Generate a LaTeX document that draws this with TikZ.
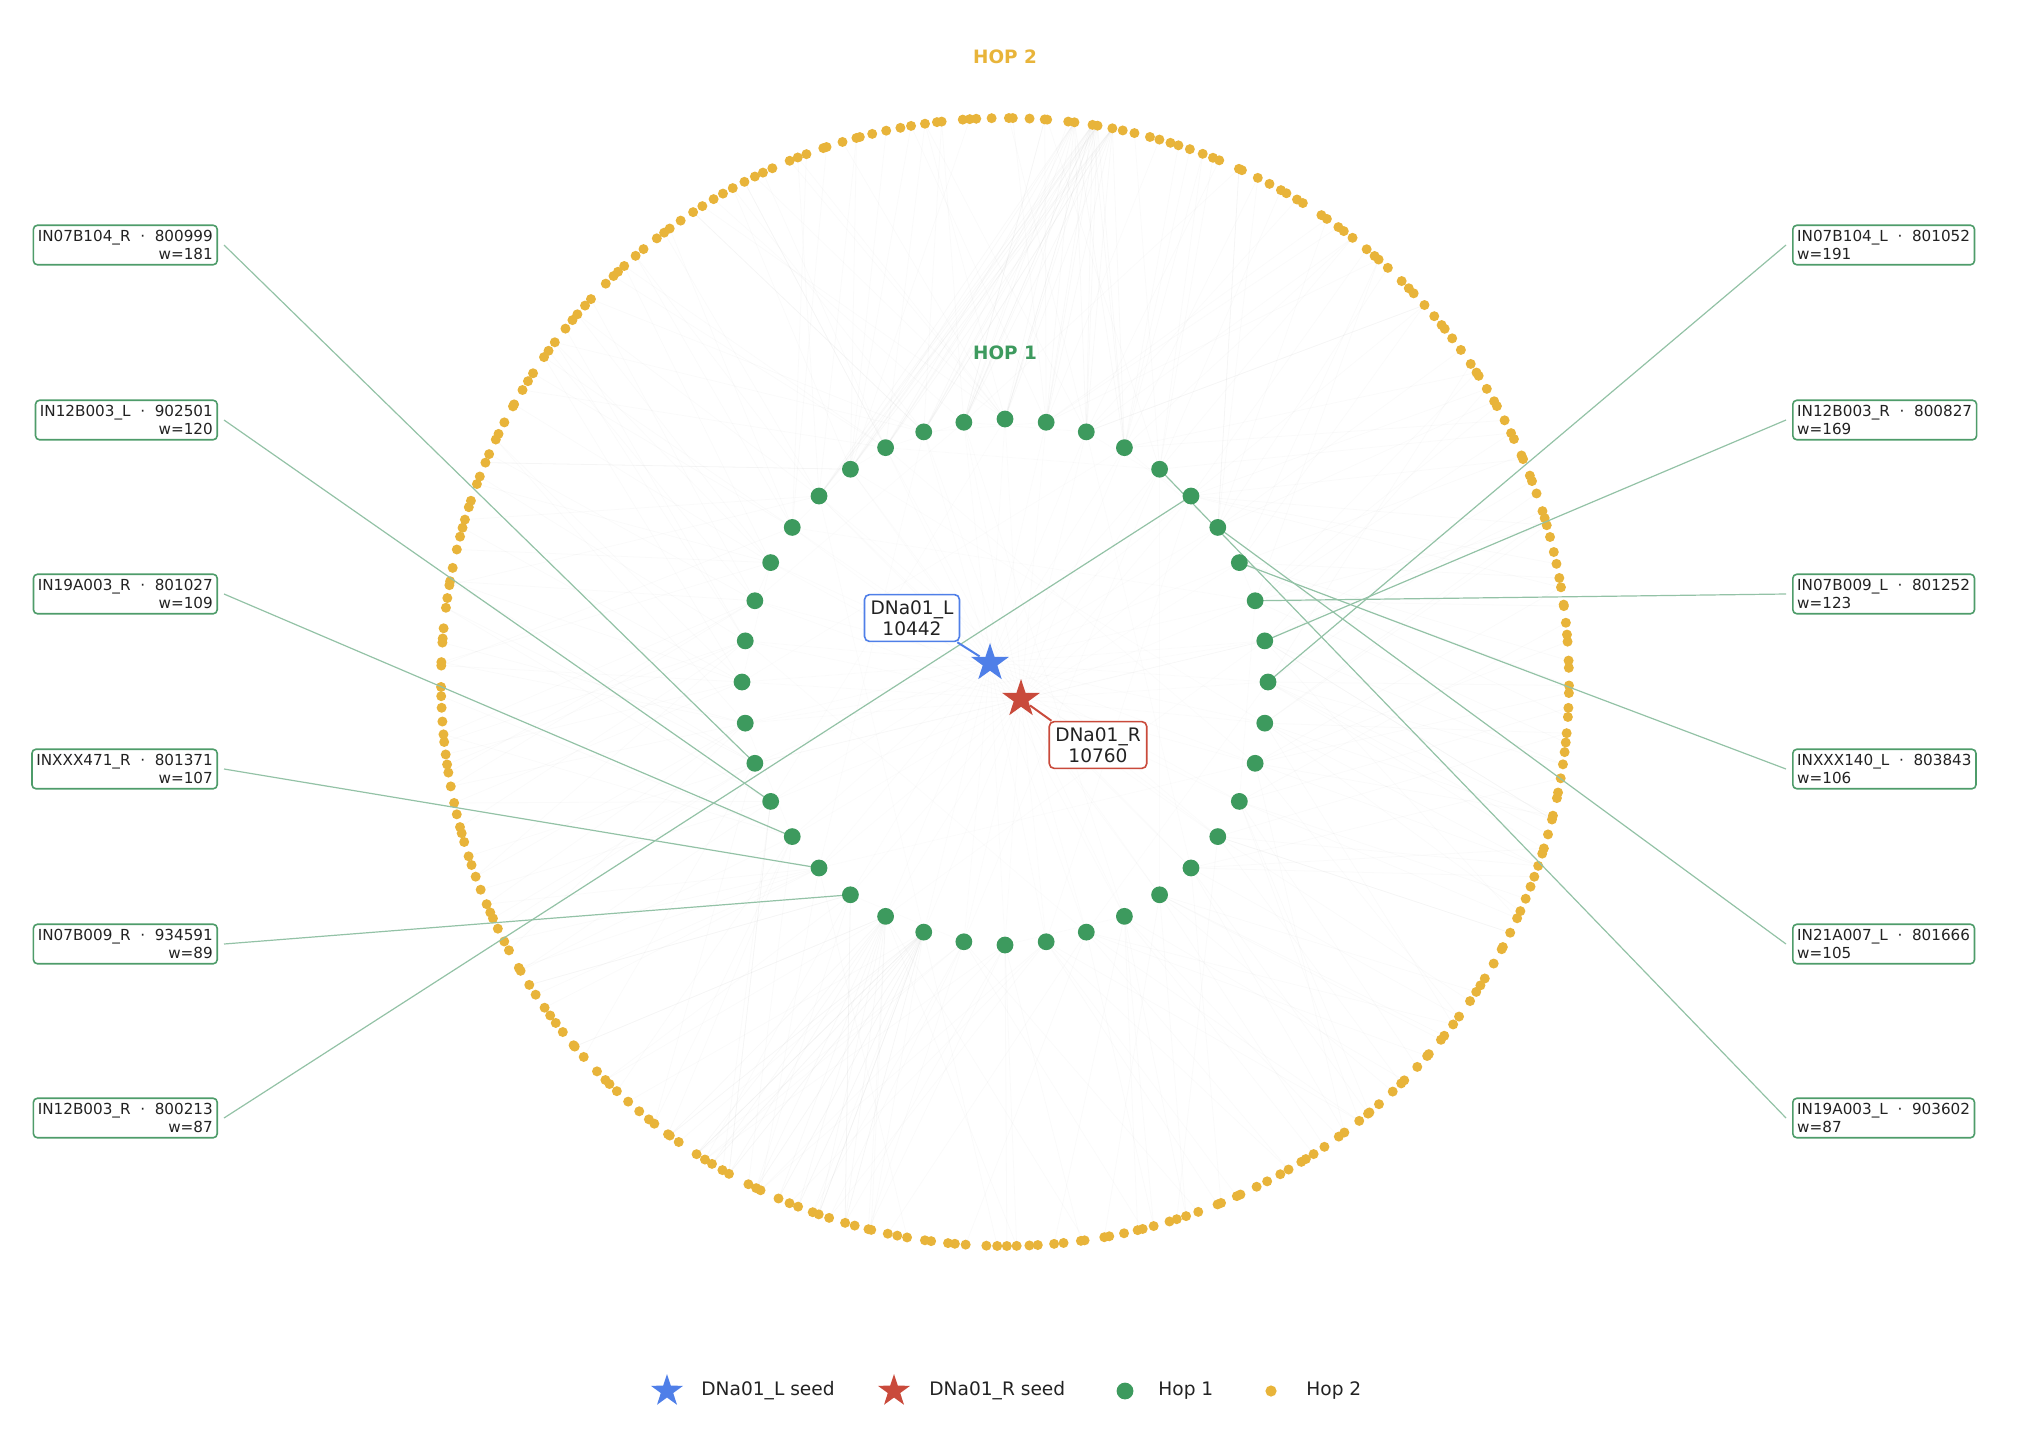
\documentclass[tikz,border=0pt]{standalone}
\usepackage{fontspec}
\setmainfont{DejaVu Sans}
\usetikzlibrary{shapes.geometric}
\definecolor{hopone}{HTML}{3D9A5E}
\definecolor{hoptwo}{HTML}{E8B43A}
\definecolor{seedL}{HTML}{4F7FE8}
\definecolor{seedR}{HTML}{C94A3B}
\definecolor{boxgreen}{HTML}{4E9C6A}
\definecolor{linkgreen}{HTML}{93C2A6}
\definecolor{txt}{HTML}{222222}
\pgfdeclarelayer{faintl}
\pgfdeclarelayer{dotsl}
\pgfdeclarelayer{linkl}
\pgfsetlayers{faintl,dotsl,linkl,main}
\begin{document}
\begin{tikzpicture}[x=0.5pt,y=-0.5pt,
  lbl/.style={draw=boxgreen, line width=0.8pt, rounded corners=2pt, fill=white, text=txt,
    font=\fontsize{7.6}{8.8}\selectfont, inner xsep=2.2pt, inner ysep=2.6pt},
  lblL/.style={lbl, align=right, anchor=east},
  lblR/.style={lbl, align=left, anchor=west},
  link/.style={draw=linkgreen, line width=0.6pt},
  faint/.style={draw=gray, opacity=0.04, line width=0.4pt},
  honedot/.style={circle, fill=hopone, inner sep=0pt, minimum size=8.4pt},
  htwodot/.style={circle, fill=hoptwo, inner sep=0pt, minimum size=5pt},
  seedstar/.style={star, star points=5, star point ratio=2.6, inner sep=0pt, minimum size=20pt},
  seedbox/.style={draw, line width=0.8pt, rounded corners=2.5pt, fill=white, text=txt, align=center,
    font=\fontsize{9.3}{10.4}\selectfont, inner xsep=3pt, inner ysep=3pt},
  hoplbl/.style={font=\bfseries\fontsize{9.2}{11}\selectfont},
  legtext/.style={anchor=west, inner xsep=0pt, text=txt, font=\fontsize{9.3}{11}\selectfont}
]
\useasboundingbox (0,0) rectangle (2044,1440);

% hop 1 positions
\foreach \k in {0,...,39} {
  \coordinate (c1-\k) at ({1005+263*cos(9*\k)},{682-263*sin(9*\k)});
}
% hop 2 positions
\pgfmathsetseed{12}
\foreach \i in {0,...,299} {
  \pgfmathsetmacro\a{\i*1.2+0.55*rand}
  \coordinate (c2-\i) at ({1005+564*cos(\a)},{682-564*sin(\a)});
}
\coordinate (pL) at (990,663);
\coordinate (pR) at (1021,699);

% faint background edges
\begin{pgfonlayer}{faintl}
\foreach \k in {0,...,39} {
  \foreach \j in {1,...,7} {
    \pgfmathtruncatemacro\t{mod(round(7.5*\k+30*rand)+600,300)}
    \draw[faint] (c1-\k) -- (c2-\t);
  }
  \draw[faint, opacity=0.03] (pL) -- (c1-\k);
  \draw[faint, opacity=0.03] (pR) -- (c1-\k);
}
% bundles
\foreach \k in {7,8,9,10,11,12,13,14,15} {
  \foreach \t in {66,67,68,69} {
    \draw[faint, opacity=0.05] (c1-\k) -- (c2-\t);
  }
}
\foreach \t in {195,197,199,201,203,205,207,209,211} {
  \draw[faint, opacity=0.07] (c1-28) -- (c2-\t);
  \draw[faint, opacity=0.05] (c1-27) -- (c2-\t);
}
\foreach \k in {0,...,39} {
  \pgfmathtruncatemacro\t{mod(\k+8+round(12*rand)+40,40)}
  \draw[faint, opacity=0.03] (c1-\k) -- (c1-\t);
}
\end{pgfonlayer}

% hop 2 dots
\begin{pgfonlayer}{dotsl}
\foreach \i in {0,...,299} {
  \node[htwodot] (h2-\i) at (c2-\i) {};
}
\end{pgfonlayer}

% hop 1 dots
\foreach \k in {0,...,39} {
  \node[honedot] (h1-\k) at (c1-\k) {};
}

% labels
\node[hoplbl, text=hoptwo] (hoptwolbl) at (1005,57) {HOP 2};
\node[hoplbl, text=hopone] (hoponelbl) at (1005,353) {HOP 1};

% left boxes
\node[lblL] (L1) at (218,245)  {IN07B104\_R~~·~~800999\\w=181};
\node[lblL] (L2) at (218,420)  {IN12B003\_L~~·~~902501\\w=120};
\node[lblL] (L3) at (218,594)  {IN19A003\_R~~·~~801027\\w=109};
\node[lblL] (L4) at (218,769)  {INXXX471\_R~~·~~801371\\w=107};
\node[lblL] (L5) at (218,944)  {IN07B009\_R~~·~~934591\\w=89};
\node[lblL] (L6) at (218,1118) {IN12B003\_R~~·~~800213\\w=87};
% right boxes
\node[lblR] (R1) at (1792,245)  {IN07B104\_L~~·~~801052\\w=191};
\node[lblR] (R2) at (1792,420)  {IN12B003\_R~~·~~800827\\w=169};
\node[lblR] (R3) at (1792,594)  {IN07B009\_L~~·~~801252\\w=123};
\node[lblR] (R4) at (1792,769)  {INXXX140\_L~~·~~803843\\w=106};
\node[lblR] (R5) at (1792,944)  {IN21A007\_L~~·~~801666\\w=105};
\node[lblR] (R6) at (1792,1118) {IN19A003\_L~~·~~903602\\w=87};

\begin{pgfonlayer}{linkl}
\foreach \b/\k in {L1/22,L2/23,L3/24,L4/25,L5/26,L6/5} {
  \coordinate (s\b) at ([xshift=3pt]\b.east);
  \draw[link] (s\b) -- (c1-\k);
}
\foreach \b/\k in {R1/0,R2/1,R3/2,R4/3,R5/4,R6/6} {
  \coordinate (s\b) at ([xshift=-3pt]\b.west);
  \draw[link] (s\b) -- (c1-\k);
}
\end{pgfonlayer}

% seeds
\node[seedbox, draw=seedL] (bL) at (912,618) {DNa01\_L\\10442};
\node[seedbox, draw=seedR] (bR) at (1098,745) {DNa01\_R\\10760};
\node[seedstar, fill=seedL] (sL) at (pL) {};
\node[seedstar, fill=seedR] (sR) at (pR) {};
\draw[seedL, line width=1pt] ([xshift=-1.5pt]bL.south east) -- (sL);
\draw[seedR, line width=1pt] (sR) -- ([xshift=1.5pt]bR.north west);

% legend
\node[seedstar, fill=seedL, minimum size=17pt] (lgL) at (667,1391) {};
\node[legtext] (lgLt) at (701,1391) {DNa01\_L seed};
\node[seedstar, fill=seedR, minimum size=17pt] (lgR) at (894,1391) {};
\node[legtext] (lgRt) at (929,1391) {DNa01\_R seed};
\node[honedot] (lg1) at (1125,1391) {};
\node[legtext] (lg1t) at (1158,1391) {Hop 1};
\node[htwodot, minimum size=5.6pt] (lg2) at (1271,1391) {};
\node[legtext] (lg2t) at (1306,1391) {Hop 2};
\end{tikzpicture}
\end{document}
